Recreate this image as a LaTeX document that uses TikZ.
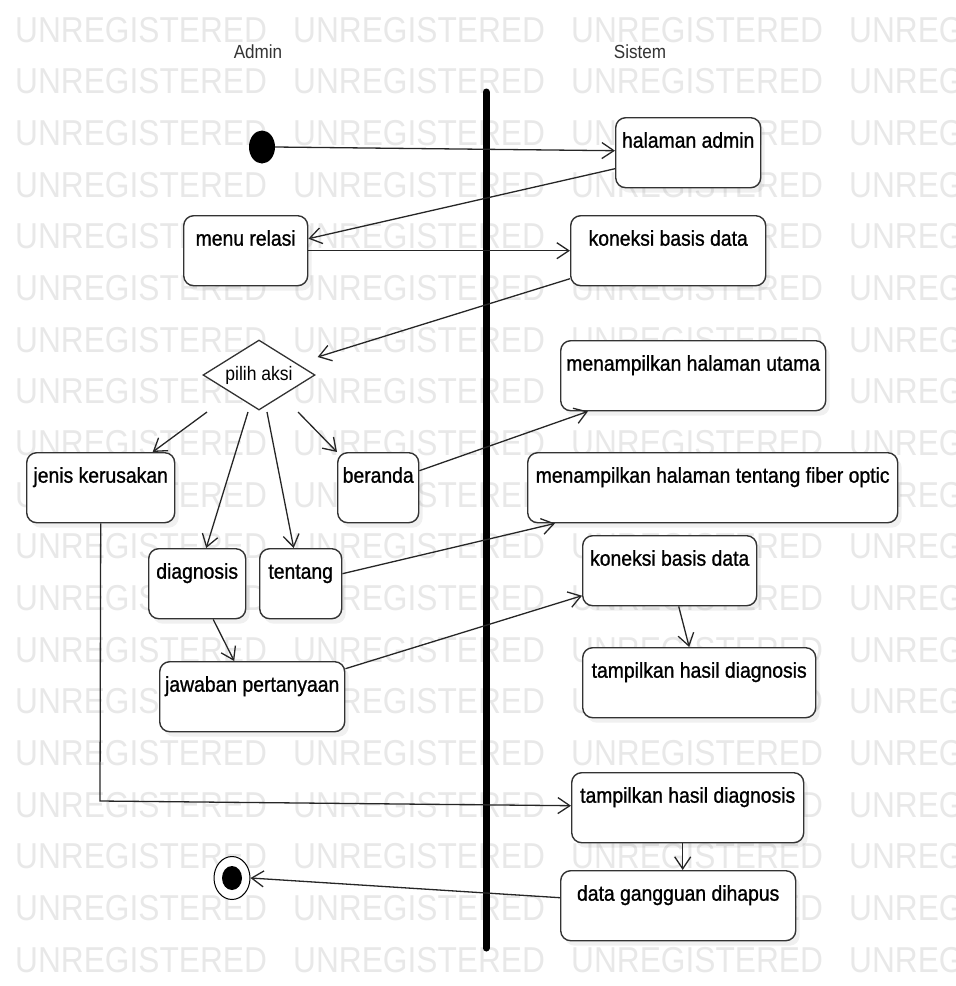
\documentclass[tikz,border=0pt]{standalone}
\usepackage{fontspec}
\setmainfont{Liberation Sans}
\newfontfamily\boxfont[FakeStretch=0.9,FakeBold=1]{Liberation Sans}
\newfontfamily\lightfont[FakeStretch=0.9]{Liberation Sans}
\newfontfamily\wmfont[FakeStretch=0.88]{Liberation Sans}
\usetikzlibrary{arrows.meta,shapes.geometric,shadows}

\begin{document}
\begin{tikzpicture}[x=1pt,y=-1pt,
  act/.style={draw=black!80, line width=1.4pt, fill=white, rounded corners=10pt,
    anchor=north west, inner sep=0pt, text height=30pt, text depth=40pt,
    font=\boxfont\fontsize{21.5}{24}\selectfont,
    drop shadow={shadow xshift=4pt, shadow yshift=-5pt, opacity=0.12}},
  flow/.style={draw=black!85, line width=1.3pt,
    -{Straight Barb[length=12pt,width=16pt,line width=1.3pt]}},
  wm/.style={anchor=base west, inner sep=0pt, text=black!9,
    font=\wmfont\fontsize{36}{40}\selectfont},
  lane/.style={text=black!80, font=\lightfont\fontsize{19}{21}\selectfont},
]
\useasboundingbox (0,0) rectangle (956,986);

% background watermark rows
\begin{scope}
  \clip (0,0) rectangle (956,986);
  \foreach \j in {0,...,18}{
    \foreach \k in {0,...,3}{
      \node[wm] (wm\j-\k) at ({15+278*\k},{42+51.67*\j}) {UNREGISTERED};
    }
  }
\end{scope}

% swimlane headers and separator
\node[lane] (admin) at (258,52) {Admin};
\node[lane] (sistem) at (640,52) {Sistem};
\coordinate (lanetop) at (486,92);
\coordinate (lanebot) at (486,948);
\draw[line width=7pt, line cap=round] (lanetop) -- (lanebot);

% start / end markers
\node[ellipse, fill=black, minimum width=26pt, minimum height=33pt, inner sep=0pt] (start) at (262,147) {};
\node[ellipse, draw=black, line width=1pt, fill=white, minimum width=36pt, minimum height=43pt, inner sep=0pt] (stop) at (232,878) {};
\node[ellipse, fill=black, minimum width=20pt, minimum height=24pt, inner sep=0pt] (stopcore) at (stop.center) {};

% actions
\node[act, minimum width=145pt] (halaman) at (615,117) {halaman admin};
\node[act, minimum width=124pt] (menu) at (183,215) {menu relasi};
\node[act, minimum width=195pt] (koneksiA) at (570,215) {koneksi basis data};
\node[diamond, draw=black!80, line width=1.3pt, fill=white, inner sep=0pt,
  minimum width=112pt, minimum height=70pt, shape aspect=1.6,
  font=\lightfont\fontsize{19.5}{22}\selectfont] (pilih) at (259,375) {pilih aksi};
\node[act, minimum width=148pt] (jenis) at (26,452) {jenis kerusakan};
\node[act, minimum width=81pt] (beranda) at (337,452) {beranda};
\node[act, minimum width=265pt] (utama) at (560,340) {menampilkan halaman utama};
\node[act, minimum width=370pt] (fiber) at (527,452) {menampilkan halaman tentang fiber optic};
\node[act, minimum width=97pt] (diagnosis) at (148,548) {diagnosis};
\node[act, minimum width=82pt] (tentang) at (259,548) {tentang};
\node[act, minimum width=185pt] (jawaban) at (159,661) {jawaban pertanyaan};
\node[act, minimum width=174pt] (koneksiB) at (582,535) {koneksi basis data};
\node[act, minimum width=233pt] (hasilA) at (582,647) {tampilkan hasil diagnosis};
\node[act, minimum width=232pt] (hasilB) at (571,772) {tampilkan hasil diagnosis};
\node[act, minimum width=235pt] (hapus) at (560,870) {data gangguan dihapus};

% control flow
\draw[flow] (start.east) -- ([yshift=2pt]halaman.west);
\draw[flow] ([yshift=-16pt]halaman.west) -- ([yshift=12pt]menu.east);
\draw[flow] (menu.east) -- (koneksiA.west);
\draw[flow] ([yshift=-28pt]koneksiA.west) -- ([xshift=2pt,yshift=18pt]pilih.east);
\draw[flow] ([xshift=-52pt,yshift=-37pt]pilih.center) -- ([xshift=52pt]jenis.north);
\draw[flow] ([xshift=-11pt,yshift=-37pt]pilih.center) -- ([xshift=9pt]diagnosis.north);
\draw[flow] ([xshift=8pt,yshift=-37pt]pilih.center) -- ([xshift=-7pt]tentang.north);
\draw[flow] ([xshift=39pt,yshift=-37pt]pilih.center) -- (beranda.north west);
\draw[flow] ([yshift=17pt]beranda.east) -- ([xshift=28pt]utama.south west);
\draw[flow] ([yshift=10pt]tentang.east) -- ([xshift=28pt]fiber.south west);
\draw[flow] ([xshift=16pt]diagnosis.south) -- ([xshift=-18pt]jawaban.north);
\draw[flow] ([yshift=28pt]jawaban.east) -- ([yshift=-25pt]koneksiB.west);
\draw[flow] ([xshift=9pt]koneksiB.south) -- ([xshift=-10pt]hasilA.north);
\coordinate (bend) at (100,801);
\draw[flow] (jenis.south) -- (bend) -- ([yshift=2pt]hasilB.west);
\draw[flow] ([xshift=-5pt]hasilB.south) -- ([xshift=-5pt]hasilB.south |- hapus.north);
\draw[flow] ([yshift=8pt]hapus.west) -- (stop.east);
\end{tikzpicture}
\end{document}
